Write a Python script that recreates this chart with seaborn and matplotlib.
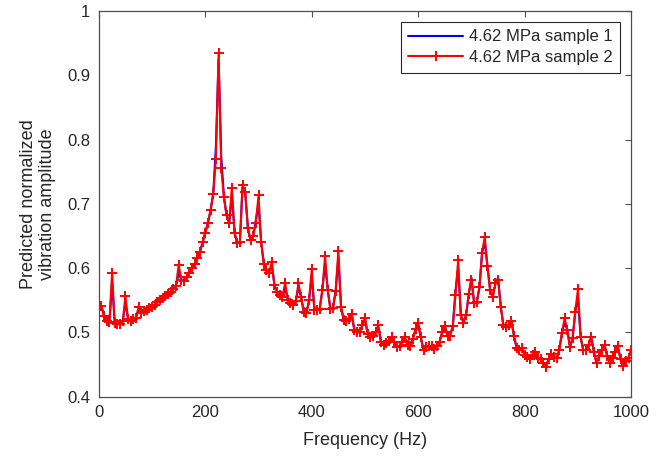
import numpy as np
import pandas as pd
import seaborn as sns
import matplotlib
matplotlib.use("Agg")
import matplotlib.pyplot as plt

# frequency grid (Hz)
freq = np.arange(5, 1001, 5)

# 4.62 MPa sample 2 (red, + markers)
sample2 = [
    0.541, 0.525, 0.518, 0.516, 0.593, 0.514, 0.513, 0.513, 0.517, 0.556,
    0.520, 0.518, 0.520, 0.523, 0.540, 0.530, 0.533, 0.535, 0.538, 0.540,
    0.543, 0.547, 0.550, 0.554, 0.557, 0.559, 0.562, 0.567, 0.572, 0.605,
    0.582, 0.580, 0.586, 0.592, 0.600, 0.606, 0.615, 0.625, 0.640, 0.655,
    0.670, 0.690, 0.716, 0.769, 0.934, 0.755, 0.711, 0.682, 0.670, 0.725,
    0.655, 0.639, 0.640, 0.730, 0.718, 0.663, 0.643, 0.650, 0.670, 0.713,
    0.640, 0.607, 0.597, 0.593, 0.609, 0.573, 0.563, 0.558, 0.555, 0.577,
    0.551, 0.545, 0.542, 0.548, 0.576, 0.555, 0.532, 0.530, 0.550, 0.598,
    0.535, 0.535, 0.537, 0.566, 0.618, 0.566, 0.537, 0.538, 0.565, 0.627,
    0.540, 0.519, 0.517, 0.520, 0.528, 0.504, 0.500, 0.500, 0.511, 0.523,
    0.498, 0.492, 0.494, 0.500, 0.511, 0.485, 0.480, 0.483, 0.486, 0.492,
    0.485, 0.477, 0.479, 0.485, 0.492, 0.481, 0.479, 0.490, 0.505, 0.515,
    0.492, 0.472, 0.477, 0.478, 0.478, 0.474, 0.478, 0.485, 0.500, 0.510,
    0.495, 0.495, 0.510, 0.558, 0.612, 0.527, 0.515, 0.527, 0.560, 0.582,
    0.546, 0.547, 0.570, 0.624, 0.649, 0.603, 0.566, 0.555, 0.576, 0.582,
    0.540, 0.511, 0.508, 0.512, 0.518, 0.494, 0.475, 0.472, 0.475, 0.465,
    0.462, 0.459, 0.464, 0.470, 0.460, 0.458, 0.452, 0.446, 0.459, 0.466,
    0.462, 0.460, 0.473, 0.499, 0.522, 0.504, 0.477, 0.491, 0.532, 0.567,
    0.493, 0.472, 0.473, 0.480, 0.493, 0.469, 0.452, 0.463, 0.472, 0.480,
    0.463, 0.452, 0.460, 0.470, 0.478, 0.458, 0.447, 0.455, 0.460, 0.472,
]

# 4.62 MPa sample 1 (blue line)
sample1 = [
    0.541, 0.525, 0.518, 0.516, 0.578, 0.514, 0.513, 0.513, 0.517, 0.546,
    0.520, 0.518, 0.520, 0.523, 0.536, 0.530, 0.533, 0.535, 0.538, 0.540,
    0.543, 0.547, 0.550, 0.554, 0.557, 0.559, 0.562, 0.567, 0.572, 0.592,
    0.582, 0.580, 0.586, 0.592, 0.600, 0.606, 0.615, 0.625, 0.640, 0.655,
    0.670, 0.690, 0.716, 0.790, 0.925, 0.775, 0.711, 0.682, 0.670, 0.715,
    0.655, 0.639, 0.640, 0.725, 0.718, 0.663, 0.643, 0.650, 0.675, 0.700,
    0.640, 0.607, 0.597, 0.593, 0.605, 0.573, 0.563, 0.558, 0.555, 0.570,
    0.551, 0.545, 0.542, 0.548, 0.570, 0.555, 0.532, 0.530, 0.550, 0.588,
    0.535, 0.535, 0.537, 0.566, 0.608, 0.566, 0.537, 0.538, 0.565, 0.617,
    0.540, 0.519, 0.517, 0.520, 0.528, 0.504, 0.500, 0.500, 0.511, 0.520,
    0.498, 0.492, 0.494, 0.500, 0.508, 0.485, 0.480, 0.483, 0.486, 0.492,
    0.485, 0.477, 0.479, 0.485, 0.492, 0.481, 0.479, 0.490, 0.505, 0.510,
    0.492, 0.472, 0.477, 0.478, 0.478, 0.474, 0.478, 0.485, 0.500, 0.510,
    0.495, 0.495, 0.510, 0.565, 0.600, 0.527, 0.515, 0.527, 0.560, 0.585,
    0.546, 0.547, 0.570, 0.624, 0.640, 0.603, 0.566, 0.555, 0.576, 0.585,
    0.540, 0.511, 0.508, 0.512, 0.518, 0.494, 0.475, 0.472, 0.475, 0.465,
    0.462, 0.459, 0.464, 0.470, 0.460, 0.458, 0.452, 0.446, 0.459, 0.466,
    0.462, 0.460, 0.473, 0.499, 0.515, 0.504, 0.477, 0.491, 0.532, 0.555,
    0.493, 0.472, 0.473, 0.480, 0.493, 0.469, 0.452, 0.463, 0.472, 0.480,
    0.463, 0.452, 0.460, 0.470, 0.478, 0.458, 0.447, 0.455, 0.460, 0.472,
]

xticks = [0, 200, 400, 600, 800, 1000]
yticks = [0.4, 0.5, 0.6, 0.7, 0.8, 0.9, 1.0]
ytick_labels = ["0.4", "0.5", "0.6", "0.7", "0.8", "0.9", "1"]

df = pd.DataFrame({"freq": freq, "s1": sample1, "s2": sample2})

sns.set_style("white")
plt.rcParams["font.family"] = ["Liberation Sans", "DejaVu Sans"]

fig = plt.figure(figsize=(6.63, 4.59), dpi=100)
ax = fig.add_axes([0.149, 0.136, 0.803, 0.840])

sns.lineplot(data=df, x="freq", y="s1", color="#0000ff", linewidth=1.5,
             label="4.62 MPa sample 1", ax=ax)
sns.lineplot(data=df, x="freq", y="s2", color="#ff0000", linewidth=1.5,
             marker="+", markersize=7, markeredgewidth=1.4,
             markeredgecolor="#ff0000", label="4.62 MPa sample 2", ax=ax)

ax.set_xlim(0, 1000)
ax.set_ylim(0.4, 1.0)
ax.set_xticks(xticks)
ax.set_yticks(yticks)
ax.set_yticklabels(ytick_labels)
ax.tick_params(direction="in", top=True, right=True, length=4, width=0.8,
               labelsize=12, colors="#4d4d4d", labelcolor="#262626", pad=6)
for sp in ax.spines.values():
    sp.set_visible(True)
    sp.set_color("#4d4d4d")
    sp.set_linewidth(0.9)

ax.set_xlabel("Frequency (Hz)", fontsize=13, color="#262626", labelpad=9)
ax.set_ylabel("Predicted normalized\nvibration amplitude", fontsize=13,
              color="#262626", labelpad=8)

leg = ax.legend(loc="upper right", fontsize=12, frameon=True, fancybox=False,
                framealpha=1, edgecolor="#262626", borderaxespad=0.65,
                handlelength=3.3, handletextpad=0.35, borderpad=0.45,
                labelspacing=0.35, numpoints=1)
leg.get_frame().set_linewidth(0.8)

fig.savefig("out.png", dpi=100)
